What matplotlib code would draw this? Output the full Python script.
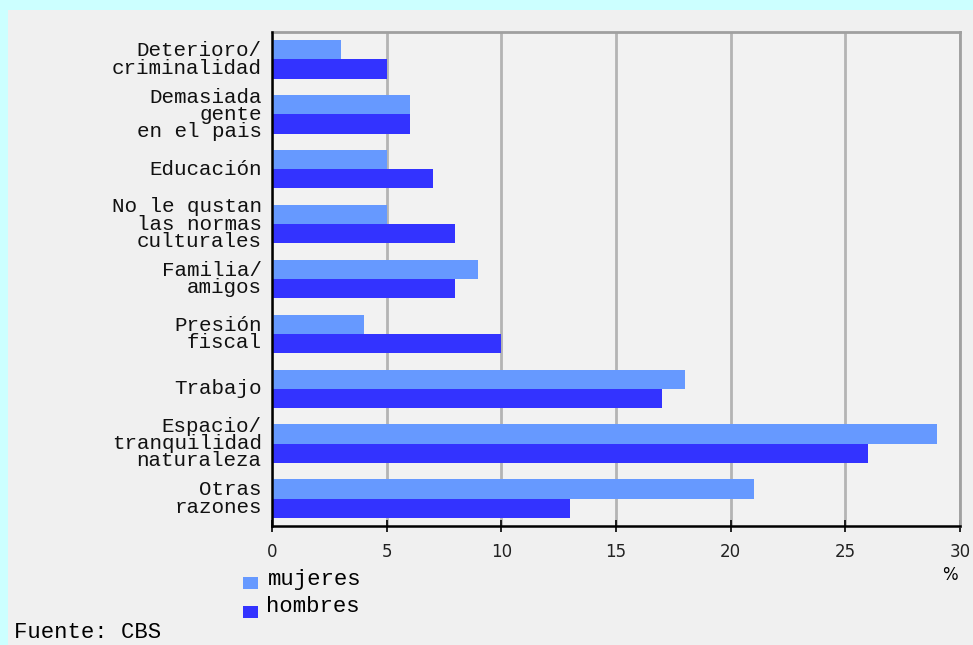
import matplotlib.pyplot as plt
from matplotlib.patches import Rectangle

# datos (%)
categorias = ['Deterioro/\ncriminalidad', 'Demasiada\ngente\nen el pais', 'Educación',
              'No le qustan\nlas normas\nculturales', 'Familia/\namigos', 'Presión\nfiscal',
              'Trabajo', 'Espacio/\ntranquilidad\nnaturaleza', 'Otras\nrazones']
mujeres = [3, 6, 5, 5, 9, 4, 18, 29, 21]
hombres = [5, 6, 7, 8, 8, 10, 17, 26, 13]
ticks_x = [0, 5, 10, 15, 20, 25, 30]

c_muj = '#6699ff'
c_hom = '#3333ff'
fondo = '#f0f0f0'
mono = 'Liberation Mono'

fig = plt.figure(figsize=(9.73, 6.45), dpi=100)
fig.patch.set_facecolor('#ccffff')
# panel gris
fig.add_artist(Rectangle((8 / 973, 0), 1, 1 - 10 / 645, transform=fig.transFigure,
                         facecolor=fondo, edgecolor='none', zorder=-10))

ax = fig.add_axes([272 / 973, 119 / 645, 688 / 973, 494 / 645])
ax.set_facecolor('#f2f2f2')
ax.set_zorder(2)

n = len(categorias)
pos = list(range(n))
h = 0.35
ax.barh([p - h / 2 for p in pos], mujeres, height=h, color=c_muj, zorder=3)
ax.barh([p + h / 2 for p in pos], hombres, height=h, color=c_hom, zorder=3)

ax.set_xlim(0, 30)
ax.set_ylim(n - 0.5, -0.5)
ax.set_xticks(ticks_x)
ax.set_xticklabels([str(t) for t in ticks_x], fontsize=12, color='#222222')
ax.set_yticks([])
ax.xaxis.grid(True, color='#b4b4b4', linewidth=2, zorder=1)
ax.set_axisbelow(True)
ax.tick_params(axis='x', direction='inout', length=8, width=1.2, pad=8)

for s in ['top', 'right']:
    ax.spines[s].set_color('#a0a0a0')
    ax.spines[s].set_linewidth(2)
for s in ['left', 'bottom']:
    ax.spines[s].set_color('black')
    ax.spines[s].set_linewidth(1.8)
    ax.spines[s].set_zorder(4)

for p, lab in zip(pos, categorias):
    ax.text(-0.45, p, lab, ha='right', va='center', fontsize=15, family=mono,
            linespacing=0.88, color='#111111', clip_on=False)

fig.text(958 / 973, 1 - 575 / 645, '%', ha='right', va='center', fontsize=12)

# leyenda
fig.add_artist(Rectangle((243 / 973, 1 - 589 / 645), 15 / 973, 12 / 645,
                         transform=fig.transFigure, facecolor=c_muj, edgecolor='none'))
fig.add_artist(Rectangle((243 / 973, 1 - 618 / 645), 15 / 973, 12 / 645,
                         transform=fig.transFigure, facecolor=c_hom, edgecolor='none'))
fig.text(268 / 973, 1 - 580 / 645, 'mujeres', ha='left', va='center', fontsize=16, family=mono)
fig.text(266 / 973, 1 - 606 / 645, 'hombres', ha='left', va='center', fontsize=16, family=mono)

fig.text(14 / 973, 1 - 633 / 645, 'Fuente: CBS', ha='left', va='center', fontsize=16, family=mono)

fig.savefig('out.png', dpi=100, facecolor=fig.get_facecolor())
